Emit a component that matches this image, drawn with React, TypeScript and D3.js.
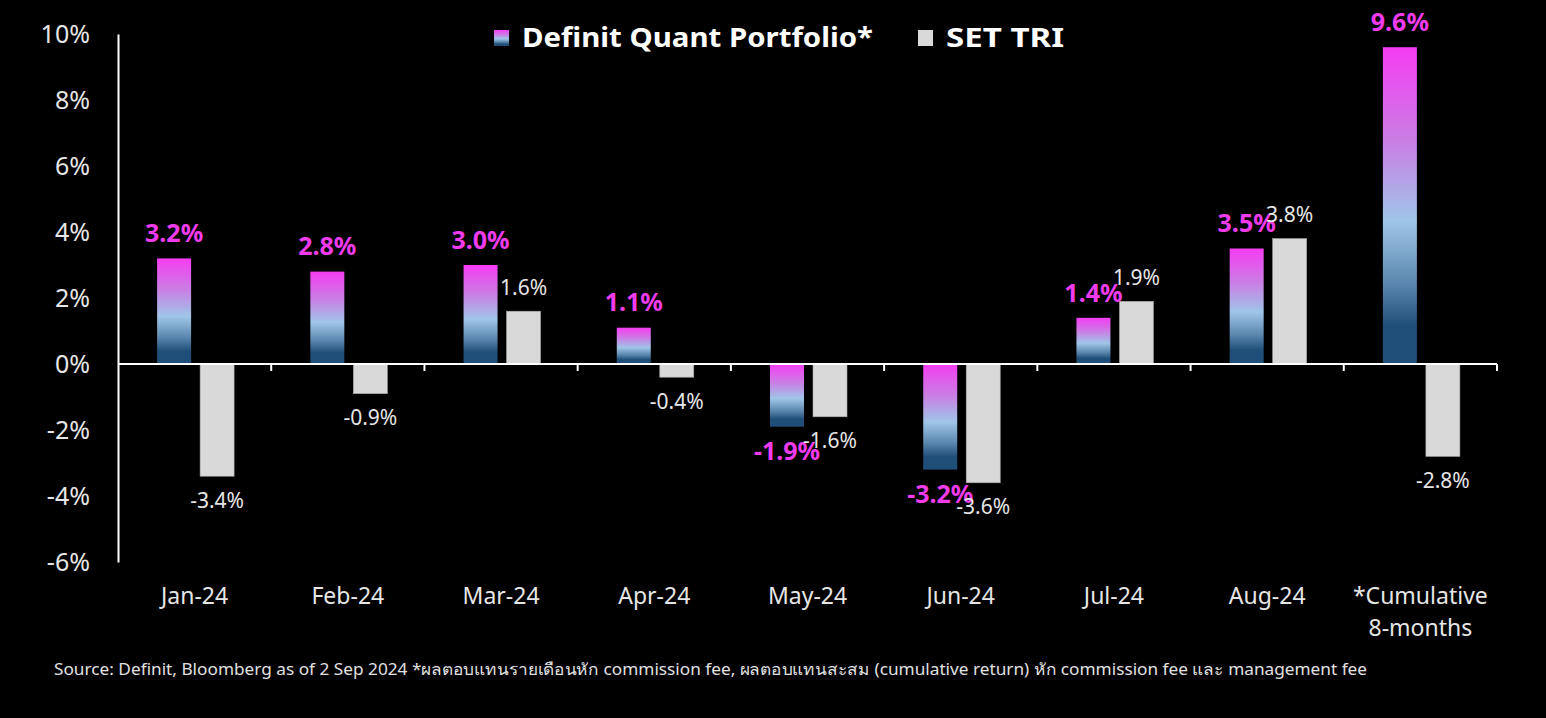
import React, { useEffect, useRef } from 'react';
import * as d3 from 'd3';

const categories = ['Jan-24', 'Feb-24', 'Mar-24', 'Apr-24', 'May-24', 'Jun-24', 'Jul-24', 'Aug-24', '*Cumulative\n8-months'];
const portfolio = [3.2, 2.8, 3.0, 1.1, -1.9, -3.2, 1.4, 3.5, 9.6];
const setTri = [-3.4, -0.9, 1.6, -0.4, -1.6, -3.6, 1.9, 3.8, -2.8];
const yTicks = [-6, -4, -2, 0, 2, 4, 6, 8, 10];
const seriesNames = ['Definit Quant Portfolio*', 'SET TRI'];
const footnote =
  'Source: Definit, Bloomberg as of 2 Sep 2024 *ผลตอบแทนรายเดือนหัก commission fee, ผลตอบแทนสะสม (cumulative return) หัก commission fee และ management fee';

const W = 1546;
const H = 718;
const FONT = '"Noto Sans", "Open Sans", sans-serif';
const MAGENTA = '#f03ced';
const GREY = '#d9d9d9';

export default function App() {
  const svgRef = useRef<SVGSVGElement>(null);

  useEffect(() => {
    document.body.style.margin = '0';
    document.body.style.background = '#000';
    if (!svgRef.current) return;

    const svg = d3.select(svgRef.current);
    svg.selectAll('*').remove();

    const margin = { left: 118, right: 49, top: 34, bottom: 156 };

    // gradient for the portfolio bars
    const defs = svg.append('defs');
    const grad = defs.append('linearGradient')
      .attr('id', 'pf')
      .attr('x1', 0).attr('y1', 0).attr('x2', 0).attr('y2', 1);
    [
      [0, '#f53cf2'],
      [0.3, '#c97fe4'],
      [0.55, '#9fc6e8'],
      [0.75, '#5a86ad'],
      [0.88, '#1f4e78'],
      [1, '#1f4e78'],
    ].forEach(([o, c]) => grad.append('stop').attr('offset', o as number).attr('stop-color', c as string));

    const x = d3.scaleBand<string>()
      .domain(categories)
      .range([margin.left, W - margin.right]);

    const y = d3.scaleLinear()
      .domain([-6, 10])
      .range([H - margin.bottom, margin.top]);

    // y axis
    const yAxis = svg.append('g')
      .attr('transform', `translate(${margin.left},0)`)
      .call(d3.axisLeft(y).tickValues(yTicks).tickSize(0).tickPadding(28).tickFormat(d => `${d}%`));
    yAxis.select('.domain').attr('stroke', '#fff').attr('stroke-width', 2);
    yAxis.selectAll('text')
      .attr('fill', '#e6e6e6')
      .attr('font-size', 25)
      .attr('font-family', FONT);

    const bw = 34;
    const gap = 9;

    // bars
    const g = svg.append('g');
    categories.forEach((c, i) => {
      const cx = (x(c) as number) + x.bandwidth() / 2 + 1;
      const p = portfolio[i];
      const s = setTri[i];
      g.append('rect')
        .attr('x', cx - gap / 2 - bw)
        .attr('y', y(Math.max(0, p)))
        .attr('width', bw)
        .attr('height', Math.abs(y(p) - y(0)))
        .attr('fill', 'url(#pf)');
      g.append('rect')
        .attr('x', cx + gap / 2)
        .attr('y', y(Math.max(0, s)))
        .attr('width', bw)
        .attr('height', Math.abs(y(s) - y(0)))
        .attr('fill', GREY)
        .attr('stroke', '#a6a6a6')
        .attr('stroke-width', 0.6);

      g.append('text')
        .attr('x', cx - gap / 2 - bw / 2)
        .attr('y', y(p) + (p >= 0 ? -25 : 25))
        .attr('dy', '0.35em')
        .attr('text-anchor', 'middle')
        .attr('fill', MAGENTA)
        .attr('font-weight', 700)
        .attr('font-size', 25)
        .attr('font-family', FONT)
        .text(`${p.toFixed(1)}%`);
      g.append('text')
        .attr('x', cx + gap / 2 + bw / 2)
        .attr('y', y(s) + (s >= 0 ? -24 : 24))
        .attr('dy', '0.35em')
        .attr('text-anchor', 'middle')
        .attr('fill', '#e6e6e6')
        .attr('font-size', 21)
        .attr('font-family', FONT)
        .text(`${s.toFixed(1)}%`);
    });

    // x axis at zero
    const xa = svg.append('g').attr('transform', `translate(0,${y(0)})`);
    xa.append('line')
      .attr('x1', margin.left).attr('x2', W - margin.right)
      .attr('stroke', '#fff').attr('stroke-width', 2);
    const bounds = categories.map(c => (x(c) as number) + x.bandwidth());
    xa.selectAll('line.tick')
      .data(bounds)
      .join('line')
      .attr('class', 'tick')
      .attr('x1', d => d).attr('x2', d => d)
      .attr('y1', 0).attr('y2', 7)
      .attr('stroke', '#fff').attr('stroke-width', 2);

    // category labels
    categories.forEach(c => {
      const t = svg.append('text')
        .attr('x', (x(c) as number) + x.bandwidth() / 2)
        .attr('y', 604)
        .attr('text-anchor', 'middle')
        .attr('fill', '#e6e6e6')
        .attr('font-size', 23)
        .attr('font-family', FONT);
      c.split('\n').forEach((line, k) => {
        t.append('tspan')
          .attr('x', (x(c) as number) + x.bandwidth() / 2)
          .attr('dy', k === 0 ? 0 : 32)
          .text(line);
      });
    });

    // legend
    const legend = svg.append('g').attr('font-family', FONT);
    const items = [
      { name: seriesNames[0], fill: 'url(#pf)', sx: 494, len: 351 },
      { name: seriesNames[1], fill: GREY, sx: 918, len: 118 },
    ];
    items.forEach(it => {
      legend.append('rect')
        .attr('x', it.sx).attr('y', 30)
        .attr('width', 15).attr('height', 16)
        .attr('fill', it.fill);
      legend.append('text')
        .attr('x', it.sx + 28).attr('y', 47)
        .attr('fill', '#fff')
        .attr('font-weight', 700)
        .attr('font-size', 27)
        .attr('textLength', it.len)
        .attr('lengthAdjust', 'spacingAndGlyphs')
        .text(it.name);
    });

    // footnote
    svg.append('text')
      .attr('x', 54).attr('y', 675)
      .attr('fill', '#e0e0e0')
      .attr('font-size', 16)
      .attr('font-family', FONT)
      .attr('textLength', 1313)
      .attr('lengthAdjust', 'spacingAndGlyphs')
      .text(footnote);
  }, []);

  return <svg ref={svgRef} width={W} height={H} style={{ display: 'block', background: '#000' }} />;
}
